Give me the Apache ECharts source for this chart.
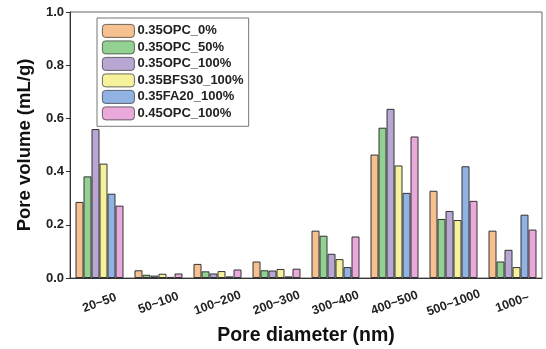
<!DOCTYPE html>
<html>
<head>
<meta charset="utf-8">
<script src="https://cdn.jsdelivr.net/npm/echarts@6/dist/echarts.min.js"></script>
<style>
  html, body { margin: 0; padding: 0; background: #fff; }
  #chart { width: 546px; height: 349px; }
</style>
</head>
<body>
<div id="chart"></div>
<script>
// pore size classes
var categories = ['20~50', '50~100', '100~200', '200~300', '300~400', '400~500', '500~1000', '1000~'];

// pore volume (mL/g) per mix
var opc35_0   = [0.286, 0.029, 0.053, 0.062, 0.178, 0.464, 0.328, 0.178];
var opc35_50  = [0.382, 0.012, 0.025, 0.029, 0.159, 0.565, 0.222, 0.062];
var opc35_100 = [0.560, 0.009, 0.017, 0.028, 0.091, 0.636, 0.252, 0.106];
var bfs30_100 = [0.430, 0.016, 0.026, 0.034, 0.071, 0.423, 0.218, 0.041];
var fa20_100  = [0.317, 0.004, 0.006, 0.006, 0.041, 0.320, 0.420, 0.238];
var opc45_100 = [0.272, 0.017, 0.032, 0.035, 0.156, 0.532, 0.290, 0.182];

var names = ['0.35OPC_0%', '0.35OPC_50%', '0.35OPC_100%', '0.35BFS30_100%', '0.35FA20_100%', '0.45OPC_100%'];
var colors = ['#f7c08f', '#92d192', '#b8a7d3', '#f6f29c', '#91b3e3', '#e9a9db'];
var values = [opc35_0, opc35_50, opc35_100, bfs30_100, fa20_100, opc45_100];

var chart = echarts.init(document.getElementById('chart'));

// 8 categories x 59px, six 8px bars side by side
var series = names.map(function (n, i) {
    return {
        name: n,
        type: 'bar',
        data: values[i],
        barWidth: 8,
        barGap: '0%',
        itemStyle: { color: colors[i], borderColor: '#333', borderWidth: 1 }
    };
});

var option = {
    animation: false,
    textStyle: { fontFamily: 'Liberation Sans, Arial, sans-serif' },
    grid: {
        left: 70, right: 4, top: 12, bottom: 71,
        outerBoundsMode: 'none',
        containLabel: false,
        show: true, borderColor: '#666', borderWidth: 1
    },
    legend: {
        orient: 'vertical',
        left: 97, top: 18,
        padding: [6, 5, 6, 5],
        itemWidth: 32, itemHeight: 13, itemGap: 2.7,
        borderColor: '#777', borderWidth: 1,
        itemStyle: { borderColor: '#444', borderWidth: 0.8 },
        textStyle: { fontSize: 13, lineHeight: 13, fontWeight: 'bold', color: '#222', padding: [0, 0, 0, -2] },
        data: names
    },
    xAxis: {
        type: 'category',
        data: categories,
        name: 'Pore diameter (nm)',
        nameLocation: 'middle',
        nameGap: 48,
        nameTextStyle: { fontSize: 19.5, fontWeight: 'bold', color: '#111' },
        axisLine: { lineStyle: { color: '#333', width: 1 } },
        axisTick: { inside: true, length: 3, lineStyle: { color: '#333' } },
        axisLabel: { rotate: 20, align: 'center', verticalAlign: 'middle', fontSize: 12.5, fontWeight: 'bold', color: '#222', margin: 25 }
    },
    yAxis: {
        type: 'value',
        min: 0, max: 1, interval: 0.2,
        name: 'Pore volume (mL/g)',
        nameLocation: 'middle',
        nameGap: 36,
        nameTextStyle: { fontSize: 18.5, fontWeight: 'bold', color: '#111' },
        axisLine: { show: true, lineStyle: { color: '#333', width: 1 } },
        axisTick: { show: true, length: 4, lineStyle: { color: '#333' } },
        axisLabel: { fontSize: 13, fontWeight: 'bold', color: '#222', margin: 6,
            formatter: function (v) { return v.toFixed(1); } },
        splitLine: { show: false }
    },
    series: series
};

chart.setOption(option);
</script>
</body>
</html>
